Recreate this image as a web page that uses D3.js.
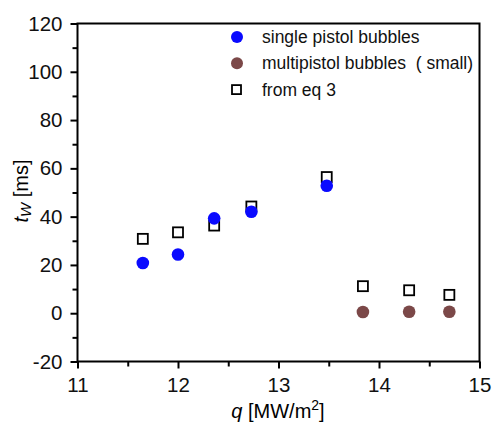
<!DOCTYPE html>
<html lang="en">
<head>
    <meta charset="UTF-8">
    <title>t_W vs q</title>
    <script src="https://cdnjs.cloudflare.com/ajax/libs/d3/7.8.5/d3.min.js"></script>
    <style>
        body { margin: 0; background: #fff; font-family: Arial, "Liberation Sans", sans-serif; }
        .tick text { font-size: 20.5px; fill: #111; }
    </style>
</head>
<body>
    <svg width="494" height="423"></svg>

    <script>
        // single pistol bubbles
        let singleQ = [11.65, 12.0, 12.36, 12.73, 13.48];
        let singleT = [20.8, 24.3, 39.3, 42.0, 52.8];
        // multipistol bubbles (small)
        let multiQ = [13.84, 14.30, 14.70];
        let multiT = [0.5, 0.6, 0.6];
        // from eq 3
        let eqQ = [11.65, 12.0, 12.36, 12.73, 13.48, 13.84, 14.30, 14.70];
        let eqT = [30.8, 33.5, 36.3, 44.2, 56.4, 11.2, 9.5, 7.6];

        let xTicks = [11, 12, 13, 14, 15];
        let yTicks = [-20, 0, 20, 40, 60, 80, 100, 120];

        let svg = d3.select("svg");
        let mLeft = 77.5, mRight = 479.5, mTop = 23.5, mBottom = 361.5;

        let x = d3.scaleLinear().domain([11, 15]).range([mLeft, mRight]);
        let y = d3.scaleLinear().domain([-20, 120]).range([mBottom, mTop]);

        // minor ticks
        svg.append("g")
            .attr("transform", `translate(0,${mBottom})`)
            .call(d3.axisBottom(x).tickValues(d3.range(11.5, 15, 1)).tickSize(5).tickFormat(""))
            .call(g => g.select(".domain").remove())
            .selectAll("line").attr("stroke", "#000").attr("stroke-width", 2);
        svg.append("g")
            .attr("transform", `translate(${mLeft},0)`)
            .call(d3.axisLeft(y).tickValues(d3.range(-10, 120, 20)).tickSize(5).tickFormat(""))
            .call(g => g.select(".domain").remove())
            .selectAll("line").attr("stroke", "#000").attr("stroke-width", 2);

        // major ticks (plain hyphen for negatives, like the original)
        let xa = svg.append("g")
            .attr("transform", `translate(0,${mBottom})`)
            .call(d3.axisBottom(x).tickValues(xTicks).tickSize(7).tickPadding(9).tickFormat(d => String(d)));
        xa.select(".domain").remove();
        xa.selectAll("line").attr("stroke", "#000").attr("stroke-width", 2);
        xa.selectAll("text").style("font-family", "Arial, 'Liberation Sans', sans-serif");

        let ya = svg.append("g")
            .attr("transform", `translate(${mLeft},0)`)
            .call(d3.axisLeft(y).tickValues(yTicks).tickSize(7).tickPadding(8).tickFormat(d => String(d)));
        ya.select(".domain").remove();
        ya.selectAll("line").attr("stroke", "#000").attr("stroke-width", 2);
        ya.selectAll("text").style("font-family", "Arial, 'Liberation Sans', sans-serif");

        // frame
        svg.append("rect")
            .attr("x", mLeft).attr("y", mTop)
            .attr("width", mRight - mLeft).attr("height", mBottom - mTop)
            .attr("fill", "none").attr("stroke", "#000").attr("stroke-width", 2);

        // data
        let eqData = eqQ.map((q, i) => ({ q: q, t: eqT[i] }));
        let singleData = singleQ.map((q, i) => ({ q: q, t: singleT[i] }));
        let multiData = multiQ.map((q, i) => ({ q: q, t: multiT[i] }));

        svg.append("g").selectAll("rect")
            .data(eqData).enter().append("rect")
            .attr("x", d => x(d.q) - 5).attr("y", d => y(d.t) - 5)
            .attr("width", 10).attr("height", 10)
            .attr("fill", "#fff").attr("stroke", "#000").attr("stroke-width", 1.8);

        svg.append("g").selectAll("circle")
            .data(singleData).enter().append("circle")
            .attr("cx", d => x(d.q)).attr("cy", d => y(d.t)).attr("r", 6.3)
            .attr("fill", "#0a0aff");

        svg.append("g").selectAll("circle")
            .data(multiData).enter().append("circle")
            .attr("cx", d => x(d.q)).attr("cy", d => y(d.t)).attr("r", 6.3)
            .attr("fill", "#7b4848");

        // legend
        let legend = svg.append("g").style("font-size", "17.5px").style("font-family", "Arial, 'Liberation Sans', sans-serif");
        let items = ["single pistol bubbles", "multipistol bubbles \u00a0( small)", "from eq 3"];
        items.forEach((label, i) => {
            let cy = 37 + i * 26.3;
            if (i < 2) {
                legend.append("circle").attr("cx", 237).attr("cy", cy).attr("r", 6)
                    .attr("fill", i == 0 ? "#0a0aff" : "#7b4848");
            } else {
                legend.append("rect").attr("x", 232).attr("y", cy - 4.5).attr("width", 9).attr("height", 9)
                    .attr("fill", "#fff").attr("stroke", "#000").attr("stroke-width", 1.8);
            }
            legend.append("text").attr("x", 262).attr("y", cy + 6).attr("fill", "#111").text(label);
        });

        // axis titles
        let xt = svg.append("text")
            .attr("x", 278).attr("y", 418)
            .attr("text-anchor", "middle")
            .style("font-size", "20px")
            .style("font-family", "Arial, 'Liberation Sans', sans-serif");
        xt.append("tspan").style("font-style", "italic").text("q");
        xt.append("tspan").text(" [MW/m");
        xt.append("tspan").attr("dy", -8).style("font-size", "14px").text("2");
        xt.append("tspan").attr("dy", 8).text("]");

        let yt = svg.append("text")
            .attr("transform", "translate(28,191) rotate(-90)")
            .attr("text-anchor", "middle")
            .style("font-size", "20px")
            .style("font-family", "Arial, 'Liberation Sans', sans-serif");
        yt.append("tspan").style("font-style", "italic").text("t");
        yt.append("tspan").attr("dy", 3).style("font-size", "15px").style("font-style", "italic").text("W");
        yt.append("tspan").attr("dy", -3).text(" [ms]");
    </script>
</body>
</html>
